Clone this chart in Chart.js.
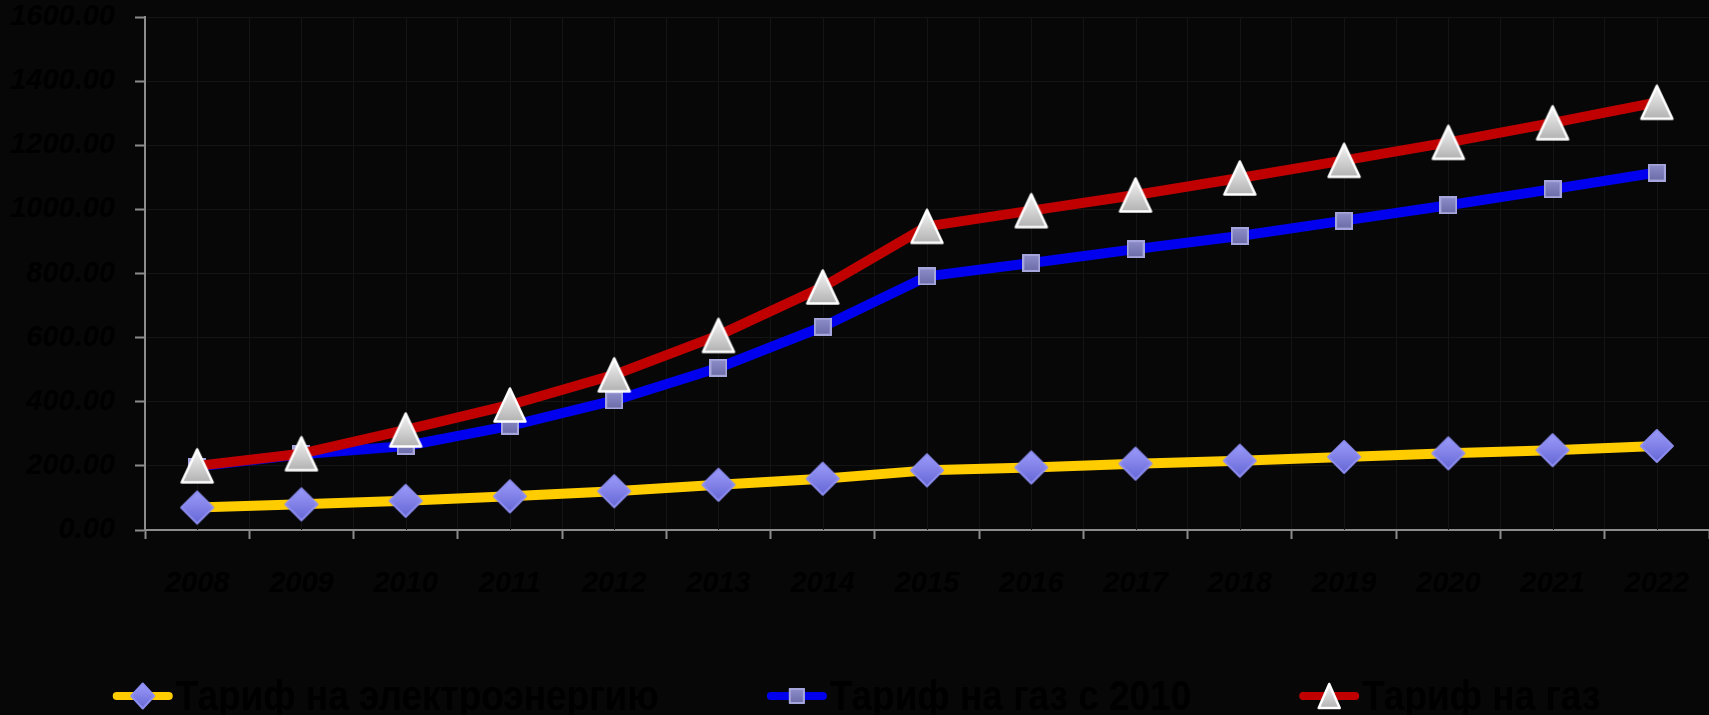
<!DOCTYPE html>
<html>
<head>
<meta charset="utf-8">
<script src="https://cdn.jsdelivr.net/npm/chart.js@4.4.1/dist/chart.umd.min.js"></script>
<style>
  html, body { margin: 0; padding: 0; background: #070707; }
  #wrap { width: 1709px; height: 715px; position: relative; }
</style>
</head>
<body>
<div id="wrap"><canvas id="c"></canvas></div>
<script>
// ---- data ----
const years = ['2008','2009','2010','2011','2012','2013','2014','2015','2016','2017','2018','2019','2020','2021','2022'];
const electricity = [70, 80, 91, 105, 121, 141, 160, 186, 195, 207, 216, 228, 239, 249, 262];
const gasSince2010 = [198, 236, 262, 325, 404, 506, 634, 791, 833, 876, 917, 965, 1013, 1063, 1115];
const gas = [200, 238, 312, 390, 484, 607, 758, 947, 996, 1045, 1098, 1153, 1209, 1270, 1334];
const seriesNames = ['Тариф на электроэнергию', 'Тариф на газ с 2010', 'Тариф на газ'];
const yMin = 0, yMax = 1600, yStep = 200;

// ---- marker images ----
function mk(w, h) { const c = document.createElement('canvas'); c.width = w; c.height = h; return c; }
function drawDiamond(ctx, cx, cy, w, h) {
  const g = ctx.createLinearGradient(0, cy - h/2, 0, cy + h/2);
  g.addColorStop(0, '#9b9bfa'); g.addColorStop(1, '#6767d6');
  ctx.beginPath();
  ctx.moveTo(cx, cy - h/2); ctx.lineTo(cx + w/2, cy); ctx.lineTo(cx, cy + h/2); ctx.lineTo(cx - w/2, cy); ctx.closePath();
  ctx.fillStyle = g; ctx.fill();
  ctx.lineJoin = 'round'; ctx.lineWidth = 2; ctx.strokeStyle = '#8e8ef2'; ctx.stroke();
}
function drawSquare(ctx, cx, cy, s) {
  const g = ctx.createLinearGradient(0, cy - s/2, 0, cy + s/2);
  g.addColorStop(0, '#8f8fcc'); g.addColorStop(1, '#6a6aa6');
  ctx.fillStyle = g; ctx.fillRect(cx - s/2, cy - s/2, s, s);
  ctx.lineWidth = 2; ctx.strokeStyle = '#a6a6dc'; ctx.strokeRect(cx - s/2 + 1, cy - s/2 + 1, s - 2, s - 2);
}
function drawTriangle(ctx, cx, cy, w, h) {
  const g = ctx.createLinearGradient(0, cy - h/2, 0, cy + h/2);
  g.addColorStop(0, '#f6f6f6'); g.addColorStop(1, '#b2b2b2');
  ctx.beginPath();
  ctx.moveTo(cx, cy - h/2); ctx.lineTo(cx + w/2, cy + h/2); ctx.lineTo(cx - w/2, cy + h/2); ctx.closePath();
  ctx.fillStyle = g; ctx.fill();
  ctx.lineJoin = 'round'; ctx.lineWidth = 2.5; ctx.strokeStyle = '#ffffff'; ctx.stroke();
}
const diamondImg = mk(36, 36); drawDiamond(diamondImg.getContext('2d'), 18, 18, 32, 32);
const squareImg = mk(18, 18); drawSquare(squareImg.getContext('2d'), 9, 9, 18);
const triangleImg = mk(36, 38); drawTriangle(triangleImg.getContext('2d'), 18, 19, 31, 33);

const seriesColors = ['#ffcc00', '#0000ee', '#c00000'];
const seriesKinds = ['diamond', 'square', 'triangle'];

// ---- plugins: background, centre grid lines, legend ----
const legendFont = "bold 42px 'Liberation Sans', Arial, sans-serif";
const legendScaleX = 0.88;
const decorPlugin = {
  id: 'decor',
  beforeDraw(chart) {
    const ctx = chart.ctx; ctx.save(); ctx.fillStyle = '#070707';
    ctx.fillRect(0, 0, chart.width, chart.height); ctx.restore();
  },
  beforeDatasetsDraw(chart) {
    const x = chart.scales.x, a = chart.chartArea, ctx = chart.ctx;
    ctx.save(); ctx.strokeStyle = '#141414'; ctx.lineWidth = 1;
    for (let i = 0; i < years.length; i++) {
      const px = Math.round(x.getPixelForValue(i)) + 0.5;
      ctx.beginPath(); ctx.moveTo(px, a.top); ctx.lineTo(px, a.bottom); ctx.stroke();
    }
    ctx.restore();
  },
  afterDraw(chart) {
    const ctx = chart.ctx;
    ctx.save();
    ctx.font = legendFont;
    const lineLen = 60, markGap = 3, itemGap = 108;
    const widths = seriesNames.map(t => ctx.measureText(t).width * legendScaleX);
    const total = widths.reduce((s, w) => s + lineLen + markGap + w, 0) + itemGap * (seriesNames.length - 1);
    let x = (chart.width - total) / 2 + 2;
    const cy = 696, base = 710;
    seriesNames.forEach((t, i) => {
      ctx.lineCap = 'round'; ctx.lineWidth = 8; ctx.strokeStyle = seriesColors[i];
      ctx.beginPath(); ctx.moveTo(x + 4, cy); ctx.lineTo(x + lineLen - 4, cy); ctx.stroke();
      const mx = x + lineLen / 2;
      if (seriesKinds[i] === 'diamond') drawDiamond(ctx, mx, cy, 23, 25);
      else if (seriesKinds[i] === 'square') drawSquare(ctx, mx, cy, 16);
      else drawTriangle(ctx, mx, cy, 21, 24);
      const tx = x + lineLen + markGap;
      ctx.save();
      ctx.translate(tx, base); ctx.scale(legendScaleX, 1);
      ctx.fillStyle = '#000000'; ctx.textBaseline = 'alphabetic'; ctx.textAlign = 'left';
      ctx.font = legendFont;
      ctx.fillText(t, 0, 0);
      ctx.restore();
      x = tx + widths[i] + itemGap;
    });
    ctx.restore();
  }
};

const tickFont = { family: "'Liberation Sans', Arial, sans-serif", size: 29, weight: 'bold', style: 'italic' };

new Chart(document.getElementById('c'), {
  type: 'line',
  data: {
    labels: years,
    datasets: [
      { label: seriesNames[0], data: electricity, borderColor: '#ffcc00', borderWidth: 10, pointStyle: diamondImg, pointRadius: 16, order: 3, tension: 0, borderJoinStyle: 'round' },
      { label: seriesNames[1], data: gasSince2010, borderColor: '#0000ee', borderWidth: 10, pointStyle: squareImg, pointRadius: 9, order: 2, tension: 0, borderJoinStyle: 'round' },
      { label: seriesNames[2], data: gas, borderColor: '#c00000', borderWidth: 10, pointStyle: triangleImg, pointRadius: 16, order: 1, tension: 0, borderJoinStyle: 'round' }
    ]
  },
  options: {
    responsive: true,
    maintainAspectRatio: false,
    animation: false,
    layout: { autoPadding: false, padding: { top: 17, left: 0, right: 0, bottom: 0 } },
    plugins: {
      tooltip: { enabled: false },
      legend: { display: false }
    },
    scales: {
      x: {
        offset: true,
        afterFit(s) { s.height = 185; s.paddingLeft = 0; s.paddingRight = 0; },
        grid: { offset: true, color: '#141414', tickColor: '#8c8c8c', tickLength: 9, lineWidth: 1, tickWidth: 2 },
        border: { display: true, color: '#8c8c8c', width: 2 },
        ticks: { color: '#000000', font: tickFont, padding: 28, maxRotation: 0, autoSkip: false }
      },
      y: {
        min: yMin, max: yMax,
        afterFit(s) { s.width = 145; s.paddingTop = 0; s.paddingBottom = 0; },
        grid: { color: '#141414', tickColor: '#8c8c8c', tickLength: 10, lineWidth: 1, tickWidth: 2 },
        border: { display: true, color: '#8c8c8c', width: 2 },
        ticks: { stepSize: yStep, color: '#000000', font: tickFont, padding: 20, callback: v => Number(v).toFixed(2) }
      }
    }
  },
  plugins: [decorPlugin]
});
</script>
</body>
</html>
